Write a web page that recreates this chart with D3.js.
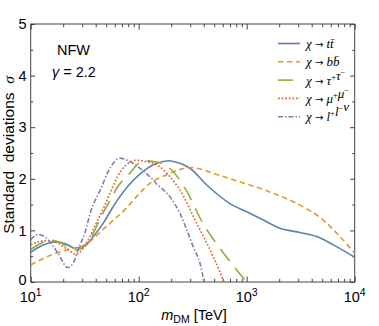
<!DOCTYPE html>
<html>
<head>
<meta charset="utf-8">
<script src="https://cdn.jsdelivr.net/npm/d3@7"></script>
<style>
  body { margin: 0; background: #fff; }
  svg { display: block; font-family: "Liberation Sans", Arial, sans-serif; }
  .pre { white-space: pre; }
</style>
</head>
<body>
<script>
// values: [m_DM in TeV, sigma]
const ttCurve = [[10,0.58],[12,0.68],[14.5,0.75],[17.3,0.78],[21,0.74],[25.5,0.66],[31.6,0.70],[39,0.91],[48,1.17],[55.7,1.40],[79,1.85],[100,2.07],[147,2.30],[190,2.35],[240,2.30],[300,2.20],[427,1.88],[700,1.52],[1000,1.36],[1426,1.20],[2030,1.04],[3110,0.96],[4450,0.88],[6340,0.72],[10000,0.48]];
const bbCurve = [[10,0.33],[14.5,0.50],[22,0.63],[31.6,0.72],[48,1.04],[79,1.46],[100,1.70],[127,1.91],[182,2.08],[240,2.18],[300,2.22],[400,2.17],[500,2.10],[870,1.94],[1760,1.72],[3110,1.49],[5120,1.20],[7000,0.92],[10000,0.56]];
const tautauCurve = [[10,0.63],[12,0.73],[15.5,0.81],[19,0.76],[23.8,0.64],[26.5,0.62],[31.6,0.70],[38,0.95],[45,1.27],[55,1.60],[64,1.85],[79,2.06],[100,2.30],[110,2.35],[150,2.32],[195,2.20],[278,1.76],[390,1.15],[590,0.60],[870,0.15],[1000,0]];
const mumuCurve = [[10,0.72],[12,0.78],[14.5,0.80],[18,0.75],[22,0.63],[26.4,0.54],[31.6,0.69],[39,1.07],[47,1.42],[55,1.75],[64,2.05],[75,2.25],[96,2.36],[120,2.33],[147,2.27],[195,2.04],[241,1.78],[344,1.14],[490,0.49],[617,0]];
const llnuCurve = [[10,0.82],[11.7,0.92],[14,0.85],[18,0.55],[22,0.28],[25,0.38],[27.4,0.62],[31.6,0.94],[36.4,1.40],[44,1.78],[54,2.20],[67,2.40],[80,2.35],[103,2.20],[127,2.04],[147,1.90],[195,1.65],[241,1.33],[280,1.00],[320,0.68],[370,0.36],[403,0]];

const xTicks = [10, 100, 1000, 10000];
const xExponents = ['1', '2', '3', '4'];
const yTicks = [0, 1, 2, 3, 4, 5];

const series = [
  { data: ttCurve, color: '#5E81B5', dash: null, label: ['t', 't\u0304'], sup: null },
  { data: bbCurve, color: '#E19C24', dash: '5.5,3.5', label: ['b', 'b\u0304'], sup: null },
  { data: tautauCurve, color: '#8FB032', dash: '15,9', label: ['τ', 'τ'], sup: ['+', '−'] },
  { data: mumuCurve, color: '#EB6235', dash: '1.8,1.8', label: ['μ', 'μ'], sup: ['+', '−'] },
  { data: llnuCurve, color: '#8778B3', dash: '5,2,1.5,2', label: ['l', 'l', 'ν'], sup: ['+', '−', ''] }
];

const W = 379, H = 326;
const x = d3.scaleLog().domain([10, 1e4]).range([30.7, 354.7]);
const y = d3.scaleLinear().domain([0, 5]).range([282, 24]);
const axisColor = '#444';

const svg = d3.select('body').append('svg')
  .attr('width', W)
  .attr('height', H);

svg.append('defs').append('clipPath').attr('id', 'plot')
  .append('rect')
  .attr('x', x.range()[0]).attr('y', y.range()[1])
  .attr('width', x.range()[1] - x.range()[0])
  .attr('height', y.range()[0] - y.range()[1]);

// minor tick values for the log axis
let xMinor = [];
[10, 100, 1000].forEach(function(d) {
  d3.range(2, 10).forEach(function(k) { xMinor.push(d * k); });
});
const yMinor = d3.range(0.5, 5, 1);

function styleAxis(g) {
  g.select('.domain').remove();
  g.selectAll('.tick line').attr('stroke', axisColor);
}

// ticks on all four sides, pointing inward
svg.append('g').attr('transform', 'translate(0,282)')
  .call(d3.axisBottom(x).tickValues(xTicks).tickSize(-5.5).tickFormat(''))
  .call(styleAxis);
svg.append('g').attr('transform', 'translate(0,282)')
  .call(d3.axisBottom(x).tickValues(xMinor).tickSize(-3.2).tickFormat(''))
  .call(styleAxis);
svg.append('g').attr('transform', 'translate(0,24)')
  .call(d3.axisTop(x).tickValues(xTicks).tickSize(-5.5).tickFormat(''))
  .call(styleAxis);
svg.append('g').attr('transform', 'translate(0,24)')
  .call(d3.axisTop(x).tickValues(xMinor).tickSize(-3.2).tickFormat(''))
  .call(styleAxis);

let yAxis = svg.append('g').attr('transform', 'translate(30.7,0)')
  .call(d3.axisLeft(y).tickValues(yTicks).tickSize(-4.5).tickPadding(4).tickFormat(d3.format('d')))
  .call(styleAxis);
yAxis.selectAll('.tick text')
  .attr('fill', '#000')
  .style('font-size', '14.5px')
  .style('font-family', '"Liberation Sans", Arial, sans-serif');
yAxis.selectAll('.tick text').filter(function(d) { return d === 0; })
  .attr('dy', '0.2em');
svg.append('g').attr('transform', 'translate(30.7,0)')
  .call(d3.axisLeft(y).tickValues(yMinor).tickSize(-2.5).tickFormat(''))
  .call(styleAxis);
svg.append('g').attr('transform', 'translate(354.7,0)')
  .call(d3.axisRight(y).tickValues(yTicks).tickSize(-4.5).tickFormat(''))
  .call(styleAxis);
svg.append('g').attr('transform', 'translate(354.7,0)')
  .call(d3.axisRight(y).tickValues(yMinor).tickSize(-2.5).tickFormat(''))
  .call(styleAxis);

// x tick labels as 10^n
let xLab = svg.append('g').attr('font-size', 14.5).attr('fill', '#000');
xTicks.forEach(function(v, i) {
  let t = xLab.append('text')
    .attr('x', x(v))
    .attr('y', 302)
    .attr('text-anchor', 'middle');
  t.append('tspan').text('10');
  t.append('tspan').attr('dy', -6).attr('font-size', 10.5).text(xExponents[i]);
});

// frame
svg.append('rect')
  .attr('x', x.range()[0]).attr('y', y.range()[1])
  .attr('width', x.range()[1] - x.range()[0])
  .attr('height', y.range()[0] - y.range()[1])
  .attr('fill', 'none')
  .attr('stroke', axisColor)
  .attr('stroke-width', 1);

// curves
let line = d3.line()
  .x(function(d) { return x(d[0]); })
  .y(function(d) { return y(d[1]); })
  .curve(d3.curveMonotoneX);

let gLines = svg.append('g').attr('clip-path', 'url(#plot)');
series.forEach(function(s) {
  gLines.append('path')
    .attr('d', line(s.data))
    .attr('fill', 'none')
    .attr('stroke', s.color)
    .attr('stroke-width', 1.6)
    .attr('stroke-dasharray', s.dash);
});

// legend
let gLeg = svg.append('g');
series.forEach(function(s, i) {
  let ly = 43.5 + i * 18.3;
  gLeg.append('line')
    .attr('x1', 278).attr('x2', 300)
    .attr('y1', ly).attr('y2', ly)
    .attr('stroke', s.color)
    .attr('stroke-width', 1.6)
    .attr('stroke-dasharray', s.dash);
  let t = gLeg.append('text')
    .attr('class', 'pre')
    .attr('x', 306)
    .attr('y', ly + 4.5)
    .attr('font-size', 13)
    .attr('font-family', '"Liberation Serif", serif');
  t.append('tspan').attr('font-style', 'italic').text('χ');
  t.append('tspan').attr('font-family', '"DejaVu Sans", sans-serif').attr('font-size', 10).text(' → ');
  s.label.forEach(function(p, j) {
    t.append('tspan').attr('font-style', 'italic').text(p);
    if (s.sup && s.sup[j]) {
      t.append('tspan').attr('dy', -5).attr('font-size', 8.5).text(s.sup[j]);
      t.append('tspan').attr('dy', 5).text('');
    }
  });
});

// annotations
svg.append('text').attr('x', 57).attr('y', 55).attr('font-size', 14.5).text('NFW');
let gam = svg.append('text').attr('class', 'pre').attr('x', 52).attr('y', 76.5).attr('font-size', 14.5);
gam.append('tspan').attr('font-style', 'italic').text('γ');
gam.append('tspan').text(' = 2.2');

// axis titles
let yt = svg.append('text')
  .attr('class', 'pre')
  .attr('transform', 'translate(14,155) rotate(-90)')
  .attr('text-anchor', 'middle')
  .attr('font-size', 15.5);
yt.append('tspan').text('Standard  deviations  ');
yt.append('tspan').attr('font-family', '"Liberation Serif", serif').attr('font-style', 'italic').text('σ');

let xt = svg.append('text')
  .attr('class', 'pre')
  .attr('x', 194)
  .attr('y', 320)
  .attr('text-anchor', 'middle')
  .attr('font-size', 14.5);
xt.append('tspan').attr('font-style', 'italic').text('m');
xt.append('tspan').attr('dy', 3).attr('font-size', 10.5).text('DM');
xt.append('tspan').attr('dy', -3).text(' [TeV]');
</script>
</body>
</html>
